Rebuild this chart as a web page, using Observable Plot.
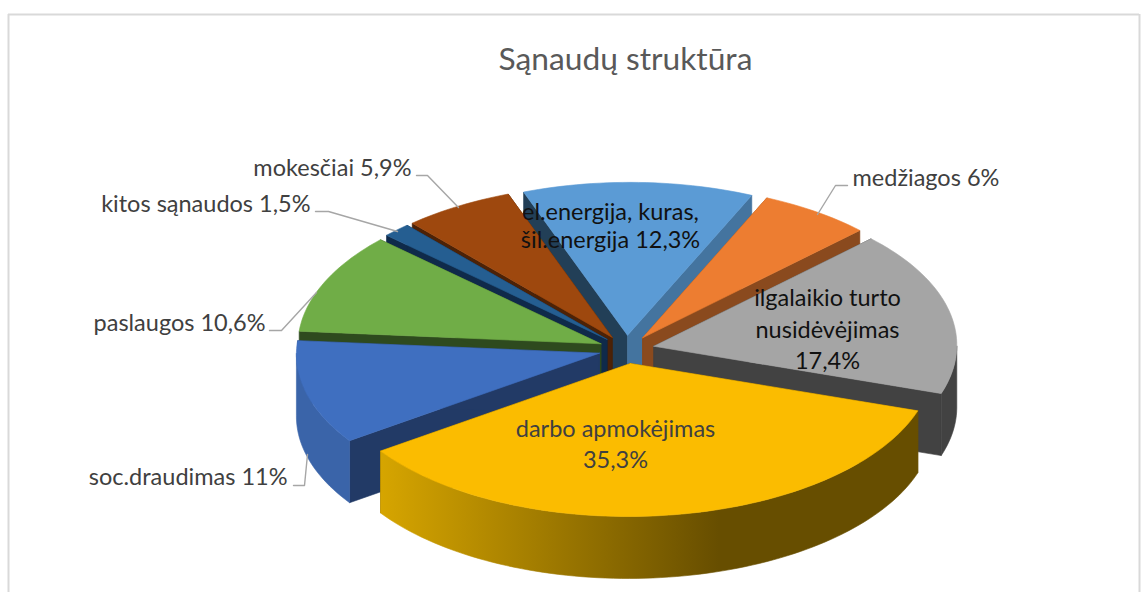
<!DOCTYPE html>
<html>
<head>
<meta charset="utf-8">
<script src="https://cdn.jsdelivr.net/npm/d3@7"></script>
<script src="https://cdn.jsdelivr.net/npm/@observablehq/plot@0.6"></script>
<style>html,body{margin:0;background:#fff}svg{display:block}</style>
</head>
<body>
<div id="chart"></div>
<script>
const categories = ["el.energija, kuras, šil.energija","medžiagos","ilgalaikio turto nusidėvėjimas","darbo apmokėjimas","soc.draudimas","paslaugos","kitos sąnaudos","mokesčiai"];
const shares = [12.3, 6, 17.4, 35.3, 11, 10.6, 1.5, 5.9];
const shareLabels = ["12,3%","6%","17,4%","35,3%","11%","10,6%","1,5%","5,9%"];
const topColors = ["#5B9BD5","#ED7D31","#A5A5A5","#FBBC00","#3F6FC0","#70AD47","#255E91","#9E480E"];
const rimColors = ["#44749F","#8A4A1E","#424242","url(#wallGrad)","#3A64A9","#446A2B","#163A5A","#5E2B08"];
const startCutColors = ["#223F57","#8A4A1E","#424242","#674E00","#223A66","#2E4A1E","#0F2A4A","#4C2207"];
const endCutColors = ["#44749F","#8A4A1E","#424242","#674E00","#223A66","#2E4A1E","#0F2A4A","#4C2207"];

// pie layout (in the pixel-valued x/y scales)
const W = 1148, H = 592;
const cx = 626, cy = 349, rx = 303, ry = 153, depth = 62, explode = 28, startDeg = -20.5, lean = 0.015;
const rad = d => d * Math.PI / 180;
const at = (s, deg, drop = 0) => {
  const y = s.oy - ry * Math.cos(rad(deg));
  return {x: s.ox + rx * Math.sin(rad(deg)) + lean * (cy - y), y: y + drop};
};
const total = d3.sum(shares);
let acc = startDeg;
const slices = shares.map((v, i) => {
  const a0 = acc, a1 = acc + v / total * 360; acc = a1;
  const mid = (a0 + a1) / 2;
  return {i, a0, a1, mid,
    ox: cx + explode * Math.sin(rad(mid)),
    oy: cy - explode * ry / rx * Math.cos(rad(mid))};
});
const arc = (s, a, b, drop = 0) => {
  const n = Math.max(2, Math.ceil(Math.abs(b - a) / 1.5));
  return d3.range(n + 1).map(k => at(s, a + (b - a) * k / n, drop));
};
const face = (pts, color) => Plot.line([...pts, pts[0]], {x: "x", y: "y", fill: color, stroke: color, strokeWidth: 0.6, curve: "linear"});

const pieMarks = [];
// back slices first
[...slices].sort((p, q) => (Math.sin(rad(p.mid - 90)) - Math.sin(rad(q.mid - 90)))).forEach(s => {
  const apex = {x: s.ox + lean * (cy - s.oy), y: s.oy}, apexD = {x: apex.x, y: s.oy + depth};
  pieMarks.push(face([apex, at(s, s.a0), at(s, s.a0, depth), apexD], startCutColors[s.i]));
  pieMarks.push(face([apex, at(s, s.a1), at(s, s.a1, depth), apexD], endCutColors[s.i]));
  const w0 = Math.max(s.a0, 90), w1 = Math.min(s.a1, 270);
  if (w1 > w0) pieMarks.push(face([...arc(s, w0, w1), ...arc(s, w1, w0, depth)], rimColors[s.i]));
  pieMarks.push(face([apex, ...arc(s, s.a0, s.a1)], topColors[s.i]));
});

// labels and leader lines
const outside = [
  {c: 7, x: 411, y: 168, anchor: "end", leader: [[416,175],[427,175],[458,207]]},
  {c: 6, x: 310, y: 204, anchor: "end", leader: [[315,211],[328,211],[397,231]]},
  {c: 1, x: 852, y: 178, anchor: "start", leader: [[847,185],[835,185],[817,214]]},
  {c: 5, x: 265, y: 323, anchor: "end", leader: [[269,330],[281,330],[316,292]]},
  {c: 4, x: 287, y: 477, anchor: "end", leader: [[293,485],[304,485],[307,454]]}
];
const inside = [
  {x: 610, y: 212, t: "el.energija, kuras,", fill: "#111"},
  {x: 610, y: 240, t: "šil.energija " + shareLabels[0], fill: "#111"},
  {x: 827, y: 298, t: "ilgalaikio turto", fill: "#111"},
  {x: 827, y: 330, t: "nusidėvėjimas", fill: "#111"},
  {x: 827, y: 361, t: shareLabels[2], fill: "#111"},
  {x: 615, y: 429, t: categories[3], fill: "#404040"},
  {x: 615, y: 460, t: shareLabels[3], fill: "#404040"}
];
const font = "Lato";
const labelSize = 23.5;
const outerText = (anchor) => Plot.text(outside.filter(o => o.anchor === anchor), {x: "x", y: "y", text: o => categories[o.c] + " " + shareLabels[o.c], textAnchor: anchor, fontSize: labelSize, fill: "#404040", fontFamily: font});

const plot = Plot.plot({
  width: W, height: H,
  marginTop: 0, marginRight: 0, marginBottom: 0, marginLeft: 0,
  x: {domain: [0, W], range: [0, W], axis: null},
  y: {domain: [0, H], range: [0, H], axis: null},
  style: {background: "#fff", fontFamily: font},
  marks: [
    () => {
      const svg = d3.create("svg:defs");
      const g = svg.append("linearGradient").attr("id", "wallGrad").attr("x1", 0).attr("x2", 0.63).attr("y1", 0).attr("y2", 0);
      g.append("stop").attr("offset", 0).attr("stop-color", "#D6A500");
      g.append("stop").attr("offset", 1).attr("stop-color", "#674E00");
      return svg.node();
    },
    Plot.ruleY([14], {x1: 8, x2: 1139, stroke: "#D9D9D9", strokeWidth: 2}),
    Plot.ruleX([8], {y1: 14, y2: H, stroke: "#D9D9D9", strokeWidth: 2}),
    Plot.ruleX([1139], {y1: 14, y2: H, stroke: "#D9D9D9", strokeWidth: 2}),
    ...pieMarks,
    ...outside.map(o => Plot.line(o.leader, {x: d => d[0], y: d => d[1], stroke: "#A6A6A6", strokeWidth: 1.4})),
    outerText("end"),
    outerText("start"),
    Plot.text(inside, {x: "x", y: "y", text: "t", fontSize: labelSize, fill: "fill", fontFamily: font}),
    Plot.text(["Sąnaudų struktūra"], {x: 625, y: 59, fontSize: 31.7, fill: "#595959", fontFamily: font})
  ]
});
document.getElementById("chart").append(plot);
</script>
</body>
</html>
